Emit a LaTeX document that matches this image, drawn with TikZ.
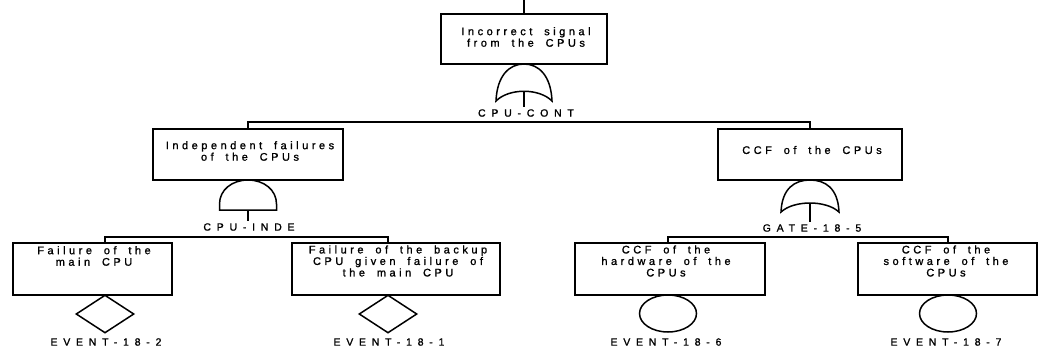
\documentclass[tikz,border=0pt]{standalone}
\usepackage{fontspec}
\setmainfont{Liberation Sans}
\newfontfamily\boxfont[LetterSpace=32,WordSpace=1.8,FakeBold=1.2]{Liberation Sans}
\newfontfamily\tagfont[LetterSpace=55,FakeBold=1.2]{Liberation Sans}
\usetikzlibrary{positioning,shapes.geometric}
\tikzset{
  ftbox/.style={draw,rectangle,inner sep=0pt,minimum height=52pt},
  boxtext/.style={align=center,inner sep=0pt,font=\boxfont\fontsize{11}{11.5}\selectfont},
  gatetag/.style={inner sep=1.5pt,font=\tagfont\fontsize{10.5}{12}\selectfont},
  basicev/.style={draw,diamond,inner sep=0pt,minimum width=58pt,minimum height=38pt},
  ccfev/.style={draw,ellipse,inner sep=0pt,minimum width=57pt,minimum height=37pt}
}
\begin{document}
\begin{tikzpicture}[x=1pt,y=-1pt,line width=1.5pt]
\useasboundingbox (0,0) rectangle (1041,348);
\coordinate (in) at (524,0);
\coordinate (lvl1) at (0,122);
\coordinate (lvl2) at (0,237);
\node[ftbox,minimum width=166pt,minimum height=50pt] (top) at (524,39) {};
\node[ftbox,minimum width=190pt,minimum height=51pt] (inde) at (248,154.5) {};
\node[ftbox,minimum width=184pt,minimum height=51pt] (ccf) at (810,154.5) {};
\node[ftbox,minimum width=159pt] (main) at (92.5,269) {};
\node[ftbox,minimum width=208pt] (backup) at (396,269) {};
\node[ftbox,minimum width=190pt] (hw) at (670,269) {};
\node[ftbox,minimum width=179pt] (sw) at (947.5,269) {};
\node[boxtext] (top-t) at (526,37) {Incorrect signal\\from the CPUs};
\node[boxtext] (inde-t) at (250,151) {Independent failures\\of the CPUs};
\node[boxtext] (ccf-t) at (812,150) {CCF of the CPUs};
\node[boxtext] (main-t) at (94,256) {Failure of the\\main CPU};
\node[boxtext] (backup-t) at (398,261) {Failure of the backup\\CPU given failure of\\the main CPU};
\node[boxtext] (hw-t) at (666,261) {CCF of the\\hardware of the\\CPUs};
\node[boxtext] (sw-t) at (946,261) {CCF of the\\software of the\\CPUs};
\draw (in) -- (in |- top.north);
\draw[fill=white] (496,101) .. controls (497,76) and (509,64) .. (524,64) .. controls (539,64) and (551,76) .. (552,101) .. controls (539,88) and (509,88) .. cycle;
\coordinate (cont) at (524,91);
\node[gatetag] (cont-l) at (526,113) {CPU-CONT};
\draw (cont) -- (cont |- cont-l.north);
\draw (inde.north) -- (inde.north |- lvl1) -- (ccf.north |- lvl1) -- (ccf.north);
\draw[fill=white] (219.5,210) -- (219.5,204) .. controls (219.5,190) and (232,180) .. (248,180) .. controls (264,180) and (276.5,190) .. (276.5,204) -- (276.5,210) -- cycle;
\coordinate (and1) at (248,210);
\node[gatetag] (inde-l) at (249,227) {CPU-INDE};
\draw (and1) -- (and1 |- inde-l.north);
\draw[fill=white] (781,212) .. controls (782,188) and (795,180) .. (810,180) .. controls (825,180) and (838,188) .. (839,212) .. controls (826,200) and (794,200) .. cycle;
\coordinate (or2) at (810,203);
\node[gatetag] (ccf-l) at (812,228) {GATE-18-5};
\draw (or2) -- (or2 |- ccf-l.north);
\node[basicev] (ev2) at (105,314) {};
\node[basicev] (ev1) at (388,314) {};
\node[ccfev] (ev6) at (668,313.5) {};
\node[ccfev] (ev7) at (948,313.5) {};
\node[gatetag] (ev2-l) at (106,342) {EVENT-18-2};
\node[gatetag] (ev1-l) at (389,342) {EVENT-18-1};
\node[gatetag] (ev6-l) at (666,342) {EVENT-18-6};
\node[gatetag] (ev7-l) at (946,342) {EVENT-18-7};
\draw (ev2 |- main.north) -- (ev2 |- lvl2) -- (ev1 |- lvl2) -- (ev1 |- backup.north);
\draw (ev6 |- hw.north) -- (ev6 |- lvl2) -- (ev7 |- lvl2) -- (ev7 |- sw.north);
\end{tikzpicture}
\end{document}
